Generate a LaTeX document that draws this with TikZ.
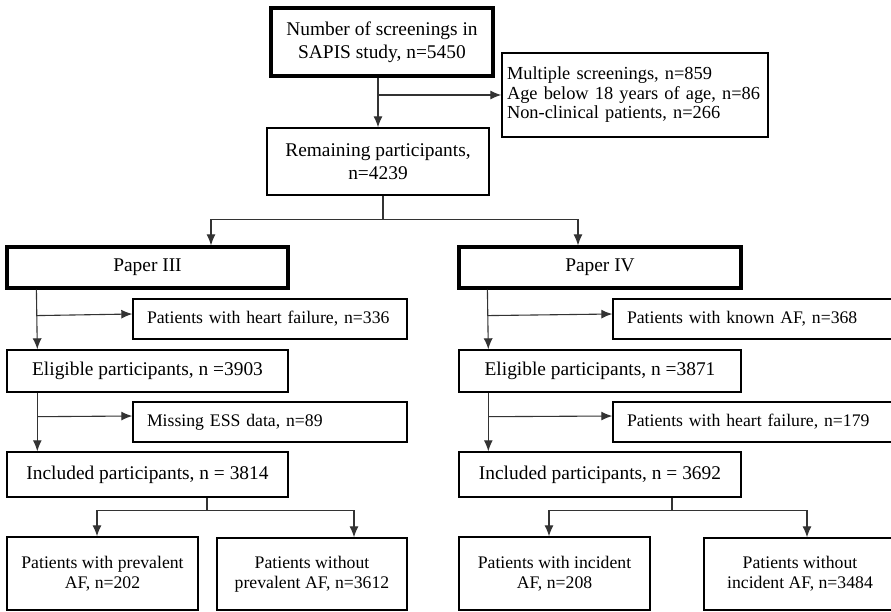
\documentclass[tikz,border=0pt]{standalone}
\usepackage{fontspec}
\setmainfont{Liberation Serif}
\usetikzlibrary{arrows.meta}

\begin{document}
\begin{tikzpicture}[x=1pt, y=-1pt,
    box/.style={draw, line width=1.4pt, inner sep=0pt, align=center,
      font=\fontsize{19.4pt}{23pt}\selectfont},
    bigbox/.style={box, line width=3.2pt},
    small/.style={box, font=\fontsize{17.7pt}{20pt}\selectfont},
    exbox/.style={small, align=left, inner xsep=14pt},
    link/.style={draw=black!80, line width=1.1pt},
    arr/.style={link, -{Latex[length=11pt,width=9pt]}}
  ]
  \useasboundingbox (0,0) rectangle (891,612);
  \clip (0,0) rectangle (891,612);

  % top part
  \node[bigbox, minimum width=222pt, minimum height=68pt] (screen) at (382,42)
    {Number of screenings in\\SAPIS study, n=5450};
  \node[box, align=left, inner xsep=5pt, text width=256pt, minimum height=84pt,
    font=\fontsize{18.4pt}{19.5pt}\selectfont] (excl) at (635,95)
    {Multiple screenings, n=859\\Age below 18 years of age, n=86\\Non-clinical patients, n=266};
  \node[box, minimum width=222pt, minimum height=67pt] (remain) at (378,161.5)
    {Remaining participants,\\n=4239};

  % paper III
  \node[bigbox, minimum width=281pt, minimum height=41pt] (p3) at (147.5,267.5) {Paper III};
  \node[exbox, text width=246pt, minimum height=40pt] (hf3) at (270,319)
    {Patients with heart failure, n=336};
  \node[box, minimum width=281pt, minimum height=42pt] (el3) at (147.5,371)
    {Eligible participants, n =3903};
  \node[exbox, text width=246pt, minimum height=40pt] (ess3) at (270,422)
    {Missing ESS data, n=89};
  \node[box, minimum width=281pt, minimum height=45pt] (inc3) at (147.5,474.5)
    {Included participants, n = 3814};
  \node[small, minimum width=191pt, minimum height=73pt] (prev3) at (102.5,573.5)
    {Patients with prevalent\\AF, n=202};
  \node[small, minimum width=190pt, minimum height=72pt] (noprev3) at (312,574)
    {Patients without\\prevalent AF, n=3612};

  % paper IV
  \node[bigbox, minimum width=282pt, minimum height=41pt] (p4) at (600,267.5) {Paper IV};
  \node[exbox, text width=259pt, minimum height=40pt] (kaf4) at (756.5,319)
    {Patients with known AF, n=368};
  \node[box, minimum width=282pt, minimum height=42pt] (el4) at (600,371)
    {Eligible participants, n =3871};
  \node[exbox, text width=259pt, minimum height=40pt] (hf4) at (756.5,422)
    {Patients with heart failure, n=179};
  \node[box, minimum width=282pt, minimum height=45pt] (inc4) at (600,474.5)
    {Included participants, n = 3692};
  \node[small, minimum width=191pt, minimum height=73pt] (incaf4) at (554.5,573.5)
    {Patients with incident\\AF, n=208};
  \node[small, minimum width=192pt, minimum height=72pt] (noinc4) at (800,574)
    {Patients without\\incident AF, n=3484};

  % connectors
  \draw[arr] (remain.north |- screen.south) -- (remain.north);
  \draw[arr] (remain.north |- excl.west) -- (excl.west);
  \draw[link] ([xshift=5pt]remain.south) -- ++(0,24) coordinate (split);
  \draw[arr] (split) -| ([xshift=63.5pt]p3.north);
  \draw[arr] (split) -| ([xshift=-22pt]p4.north);

  \draw[arr] ([xshift=31pt]p3.south west) -- ([xshift=31pt]el3.north west);
  \draw[arr] ([shift={(31,26)}]p3.south west) -- ([yshift=5pt]hf3.west);
  \draw[arr] ([xshift=31pt]el3.south west) -- ([xshift=31pt]inc3.north west);
  \draw[arr] ([shift={(31,24)}]el3.south west) -- ([yshift=6pt]ess3.west);
  \draw[link] ([xshift=59.5pt]inc3.south) -- ++(0,13) coordinate (s3);
  \draw[arr] (s3) -| ([xshift=-5.5pt]prev3.north);
  \draw[arr] (s3) -| ([xshift=42pt]noprev3.north);

  \draw[arr] ([xshift=30pt]p4.south west) -- ([xshift=30pt]el4.north west);
  \draw[arr] ([shift={(30,26)}]p4.south west) -- ([yshift=5pt]kaf4.west);
  \draw[arr] ([xshift=30pt]el4.south west) -- ([xshift=30pt]inc4.north west);
  \draw[arr] ([shift={(30,24)}]el4.south west) -- ([yshift=6pt]hf4.west);
  \draw[link] ([xshift=72pt]inc4.south) -- ++(0,13) coordinate (s4);
  \draw[arr] (s4) -| ([xshift=-5.5pt]incaf4.north);
  \draw[arr] (s4) -| ([xshift=7pt]noinc4.north);
\end{tikzpicture}
\end{document}
